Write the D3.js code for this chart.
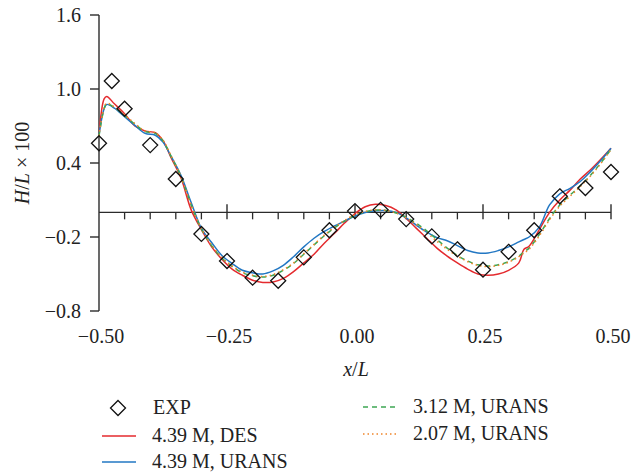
<!DOCTYPE html>
<html>
<head>
<meta charset="utf-8">
<script src="https://cdn.jsdelivr.net/npm/d3@7"></script>
<style>
  body { margin: 0; background: #fff; }
  svg { display: block; font-family: "Liberation Serif", "DejaVu Serif", serif; }
</style>
</head>
<body>
<svg id="chart" width="634" height="475"></svg>
<script>
// x positions shared by the simulated profiles
const xGrid = [-0.5, -0.49, -0.485, -0.47, -0.45, -0.43, -0.41, -0.39, -0.375, -0.36, -0.34, -0.32,
  -0.30, -0.28, -0.26, -0.24, -0.22, -0.20, -0.18, -0.16, -0.14, -0.12, -0.10, -0.08, -0.06, -0.04,
  -0.02, 0.0, 0.02, 0.04, 0.06, 0.08, 0.10, 0.12, 0.14, 0.16, 0.18, 0.20, 0.22, 0.24, 0.26, 0.28,
  0.30, 0.32, 0.33, 0.34, 0.36, 0.38, 0.40, 0.42, 0.44, 0.46, 0.48, 0.50];

const desFine = [0.63, 0.92, 0.94, 0.88, 0.80, 0.70, 0.66, 0.645, 0.58, 0.45, 0.28, 0.02,
  -0.14, -0.28, -0.38, -0.46, -0.51, -0.55, -0.568, -0.565, -0.535, -0.48, -0.41, -0.34, -0.25, -0.17,
  -0.085, -0.01, 0.045, 0.065, 0.055, 0.02, -0.05, -0.13, -0.21, -0.29, -0.355, -0.41, -0.46, -0.50, -0.51, -0.50,
  -0.47, -0.41, -0.30, -0.275, -0.14, 0.0, 0.10, 0.18, 0.27, 0.345, 0.43, 0.52];

const uransFine = [0.63, 0.84, 0.875, 0.845, 0.775, 0.705, 0.64, 0.625, 0.57, 0.46, 0.30, 0.08,
  -0.13, -0.245, -0.35, -0.415, -0.47, -0.49, -0.50, -0.475, -0.43, -0.36, -0.28, -0.21, -0.155, -0.11,
  -0.07, -0.03, -0.002, 0.012, 0.015, 0.0, -0.045, -0.105, -0.16, -0.205, -0.23, -0.27, -0.31, -0.33, -0.33, -0.31,
  -0.28, -0.24, -0.22, -0.20, -0.12, 0.06, 0.15, 0.195, 0.25, 0.33, 0.42, 0.52];

const uransMedium = [0.62, 0.84, 0.88, 0.85, 0.785, 0.715, 0.655, 0.64, 0.58, 0.46, 0.29, 0.06,
  -0.135, -0.27, -0.37, -0.44, -0.49, -0.515, -0.525, -0.51, -0.47, -0.415, -0.34, -0.265, -0.19, -0.125,
  -0.07, -0.025, 0.005, 0.018, 0.015, -0.005, -0.04, -0.09, -0.15, -0.22, -0.29, -0.35, -0.395, -0.425, -0.435, -0.425,
  -0.40, -0.355, -0.32, -0.29, -0.18, -0.05, 0.06, 0.14, 0.215, 0.30, 0.40, 0.51];

const uransCoarse = [0.62, 0.85, 0.885, 0.855, 0.79, 0.72, 0.66, 0.645, 0.585, 0.465, 0.29, 0.06,
  -0.13, -0.265, -0.365, -0.435, -0.485, -0.51, -0.52, -0.505, -0.465, -0.41, -0.335, -0.26, -0.185, -0.12,
  -0.065, -0.02, 0.008, 0.02, 0.016, -0.005, -0.045, -0.1, -0.165, -0.235, -0.3, -0.355, -0.4, -0.43, -0.44, -0.43,
  -0.405, -0.36, -0.33, -0.30, -0.19, -0.06, 0.05, 0.13, 0.21, 0.295, 0.395, 0.51];

// experimental points
const expX = [-0.5, -0.475, -0.45, -0.4, -0.35, -0.3, -0.25, -0.2, -0.15, -0.1, -0.05, 0.0, 0.05,
  0.1, 0.15, 0.2, 0.25, 0.3, 0.35, 0.4, 0.45, 0.5];
const expY = [0.56, 1.065, 0.84, 0.545, 0.27, -0.175, -0.395, -0.53, -0.555, -0.365, -0.145, 0.01, 0.02,
  -0.055, -0.195, -0.3, -0.465, -0.32, -0.145, 0.13, 0.197, 0.327];

const xMajorTicks = [-0.5, -0.25, 0, 0.25, 0.5];
const xMajorLabels = ['\u22120.50', '\u22120.25', '0.00', '0.25', '0.50'];
const yTicks = [-0.8, -0.2, 0.4, 1.0, 1.6];
const yLabels = ['\u22120.8', '\u22120.2', '0.4', '1.0', '1.6'];

const series = [
  { name: '4.39 M, DES', values: desFine, color: '#e42a2e', dash: null },
  { name: '4.39 M, URANS', values: uransFine, color: '#2277c3', dash: null },
  { name: '3.12 M, URANS', values: uransMedium, color: '#3ea653', dash: '5,4' },
  { name: '2.07 M, URANS', values: uransCoarse, color: '#f08428', dash: '1.5,3' }
];

const svg = d3.select('#chart');
const axisColor = '#2b2b2b';

const x = d3.scaleLinear().domain([-0.5, 0.5]).range([99, 611]);
const y = d3.scaleLinear().domain([-0.8, 1.6]).range([311, 15]);

// y axis
svg.append('line')
  .attr('x1', x(-0.5)).attr('x2', x(-0.5))
  .attr('y1', y(1.6)).attr('y2', y(-0.8))
  .attr('stroke', axisColor).attr('stroke-width', 1.4);

svg.selectAll('.ytick')
  .data(yTicks)
  .join('line')
  .attr('class', 'ytick')
  .attr('x1', x(-0.5) - 9).attr('x2', x(-0.5))
  .attr('y1', d => y(d)).attr('y2', d => y(d))
  .attr('stroke', axisColor).attr('stroke-width', 1.4);

svg.selectAll('.ylabel')
  .data(yTicks)
  .join('text')
  .attr('class', 'ylabel')
  .attr('x', 81)
  .attr('y', d => y(d))
  .attr('dy', '0.36em')
  .attr('text-anchor', 'end')
  .style('font-size', '20px')
  .style('fill', '#222')
  .text((d, i) => yLabels[i]);

// x axis at y = 0
svg.append('line')
  .attr('x1', x(-0.5)).attr('x2', x(0.5))
  .attr('y1', y(0)).attr('y2', y(0))
  .attr('stroke', axisColor).attr('stroke-width', 1.4);

const minorTicks = d3.range(-0.45, 0.5, 0.05).filter(v => Math.abs(v / 0.25 - Math.round(v / 0.25)) > 0.01);

svg.selectAll('.xminor')
  .data(minorTicks)
  .join('line')
  .attr('class', 'xminor')
  .attr('x1', d => x(d)).attr('x2', d => x(d))
  .attr('y1', y(0)).attr('y2', y(0) + 7)
  .attr('stroke', axisColor).attr('stroke-width', 1.3);

svg.selectAll('.xmajor')
  .data(xMajorTicks.slice(1))
  .join('line')
  .attr('class', 'xmajor')
  .attr('x1', d => x(d)).attr('x2', d => x(d))
  .attr('y1', y(0) - 8).attr('y2', y(0) + 7)
  .attr('stroke', axisColor).attr('stroke-width', 1.4);

svg.selectAll('.xlabel')
  .data(xMajorTicks)
  .join('text')
  .attr('class', 'xlabel')
  .attr('x', d => x(d) + 2)
  .attr('y', 343)
  .attr('text-anchor', 'middle')
  .style('font-size', '20px')
  .style('fill', '#222')
  .text((d, i) => xMajorLabels[i]);

// axis titles
const xTitle = svg.append('text')
  .attr('x', 356).attr('y', 376)
  .attr('text-anchor', 'middle')
  .style('font-size', '20px')
  .style('fill', '#222');
xTitle.append('tspan').style('font-style', 'italic').text('x');
xTitle.append('tspan').text('/');
xTitle.append('tspan').style('font-style', 'italic').text('L');

const yTitle = svg.append('text')
  .attr('transform', 'translate(29,163) rotate(-90)')
  .attr('text-anchor', 'middle')
  .style('font-size', '20px')
  .style('fill', '#222');
yTitle.append('tspan').style('font-style', 'italic').text('H');
yTitle.append('tspan').text('/');
yTitle.append('tspan').style('font-style', 'italic').text('L');
yTitle.append('tspan').text(' \u00d7 100');

// simulation lines
const line = d3.line()
  .x((d, i) => x(xGrid[i]))
  .y(d => y(d))
  .curve(d3.curveCatmullRom.alpha(0.5));

svg.selectAll('.sim')
  .data(series)
  .join('path')
  .attr('class', 'sim')
  .attr('d', d => line(d.values))
  .attr('fill', 'none')
  .attr('stroke', d => d.color)
  .attr('stroke-width', 1.5)
  .attr('stroke-dasharray', d => d.dash);

// experiment diamonds
const diamond = s => `M0,${-s}L${s},0L0,${s}L${-s},0Z`;
svg.selectAll('.exp')
  .data(expX)
  .join('path')
  .attr('class', 'exp')
  .attr('transform', (d, i) => `translate(${x(d)},${y(expY[i])})`)
  .attr('d', diamond(7.5))
  .attr('fill', 'none')
  .attr('stroke', '#111')
  .attr('stroke-width', 1.3);

// legend
const legend = svg.append('g').style('font-size', '20px').style('fill', '#222');

legend.append('path')
  .attr('transform', 'translate(118,408)')
  .attr('d', diamond(7.5))
  .attr('fill', 'none')
  .attr('stroke', '#111')
  .attr('stroke-width', 1.3);
legend.append('text').attr('x', 153).attr('y', 414).text('EXP');

const legendPos = [
  { x: 102, y: 436, tx: 152 },
  { x: 102, y: 462, tx: 152 },
  { x: 363, y: 407, tx: 413 },
  { x: 363, y: 434, tx: 413 }
];

series.forEach((s, i) => {
  const p = legendPos[i];
  legend.append('line')
    .attr('x1', p.x).attr('x2', p.x + 34)
    .attr('y1', p.y).attr('y2', p.y)
    .attr('stroke', s.color)
    .attr('stroke-width', 1.4)
    .attr('stroke-dasharray', s.dash);
  legend.append('text')
    .attr('x', p.tx).attr('y', p.y + 6)
    .text(s.name);
});
</script>
</body>
</html>
